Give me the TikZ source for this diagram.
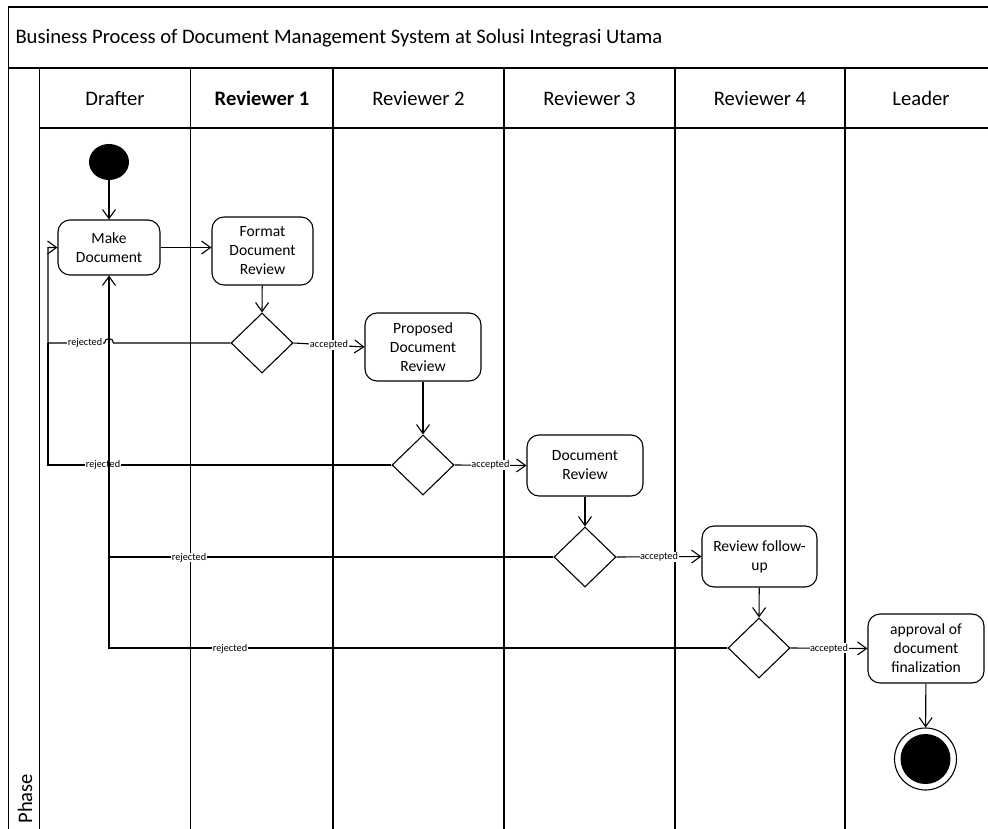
\documentclass[tikz,border=0pt]{standalone}
\usepackage{fontspec}
\setmainfont{Carlito}
\usetikzlibrary{arrows.meta,shapes.geometric}
\begin{document}
\begin{tikzpicture}[x=1pt,y=-1pt,
  frame/.style={line width=1.4pt},
  act/.style={draw,line width=1.1pt,rounded corners=12pt,align=center,font=\fontsize{15.6}{19}\selectfont,inner sep=0pt},
  dec/.style={draw,line width=1.1pt,diamond,minimum width=62pt,minimum height=60pt,inner sep=0pt},
  conn/.style={line width=1.1pt},
  arr/.style={conn,-{Straight Barb[length=9pt,width=13pt,line width=1.1pt]}},
  lbl/.style={fill=white,inner sep=0.5pt,font=\fontsize{10.3}{11}\selectfont},
  hdr/.style={font=\fontsize{20.6}{23}\selectfont},
  lane/.style={hdr,anchor=base}]
\clip (0,0) rectangle (988,829);
\fill[white] (0,0) rectangle (988,829);
% frame
\draw[frame] (8.5,840) -- (8.5,7) -- (997,7) -- (997,840);
\draw[frame] (8.5,68) -- (997,68);
\draw[frame] (39.5,68) -- (39.5,840);
\draw[frame] (39.5,128) -- (997,128);
\foreach \x in {190.5,333,504,675,845}{\draw[frame] (\x,68) -- (\x,840);}
\node[hdr,anchor=base west] (title) at (12,44) {Business Process of Document Management System at Solusi Integrasi Utama};
\node[hdr,rotate=90,anchor=west] (phase) at (25,827) {Phase};
\node[lane] (h1) at (115,106) {Drafter};
\node[lane,font=\fontsize{20.6}{23}\selectfont\bfseries] (h2) at (262,106) {Reviewer 1};
\node[lane] (h3) at (418.5,106) {Reviewer 2};
\node[lane] (h4) at (589.5,106) {Reviewer 3};
\node[lane] (h5) at (760,106) {Reviewer 4};
\node[lane] (h6) at (921,106) {Leader};
% nodes
\node[ellipse,fill=black,minimum width=40pt,minimum height=36pt,inner sep=0pt] (start) at (109,162) {};
\node[act,minimum width=102pt,minimum height=55pt] (make) at (109,247.5) {Make\\Document};
\node[act,minimum width=101pt,minimum height=68pt] (fmt) at (262.5,251) {Format\\Document\\Review};
\node[dec] (d1) at (262,343) {};
\node[act,minimum width=116pt,minimum height=68pt] (prop) at (423,347) {Proposed\\Document\\Review};
\node[dec] (d2) at (423,465) {};
\node[act,minimum width=116pt,minimum height=61pt] (rev) at (585,465.5) {Document\\Review};
\node[dec] (d3) at (585,557) {};
\node[act,minimum width=115pt,minimum height=61pt] (fol) at (759.5,556.5) {Review follow-\\up};
\node[dec] (d4) at (759,648) {};
\node[act,minimum width=116pt,minimum height=69pt] (appr) at (926,648.5) {approval of\\document\\finalization};
\node[circle,draw,line width=1.1pt,minimum size=62pt,inner sep=0pt] (endo) at (925.5,759) {};
\node[circle,fill=black,minimum size=50pt,inner sep=0pt] (endi) at (925.5,759) {};
\coordinate (lx) at (48,0);
% flows
\draw[arr] (start) -- (make);
\draw[arr] (make.east) -- (fmt.west |- make.east);
\draw[arr] (fmt) -- (d1.north);
\draw[arr] (d1.east) -- node[lbl,pos=0.5]{accepted} (prop.west);
\draw[arr] (prop) -- (d2.north);
\draw[arr] (d2.east) -- node[lbl,pos=0.5]{accepted} (rev.west);
\draw[arr] (rev) -- (d3.north);
\draw[arr] (d3.east) -- node[lbl,pos=0.5]{accepted} (fol.west);
\draw[arr] (fol) -- (d4.north);
\draw[arr] (d4.east) -- node[lbl,pos=0.5]{accepted} (appr.west);
\draw[arr] (appr) -- (endo);
% rejected flows
\draw[conn] (d2.west) -- (lx |- d2.west) -- (lx |- d1.west);
\node[lbl] (r2) at (103,465) {rejected};
\draw[conn] (d3.west) -- (make.south |- d3.west);
\node[lbl] (r3) at (189,557.5) {rejected};
\draw[arr] (d4.west) -- (make.south |- d4.west) -- (make.south);
\node[lbl] (r4) at (230,648.5) {rejected};
\draw[arr] (d1.west) -- ([xshift=4.5pt]make.south |- d1.west) arc[start angle=0,end angle=-180,radius=4.5] -- (lx |- d1.west) -- (lx |- make.west) -- (make.west);
\node[lbl] (r1) at (85,343) {rejected};
\end{tikzpicture}
\end{document}
